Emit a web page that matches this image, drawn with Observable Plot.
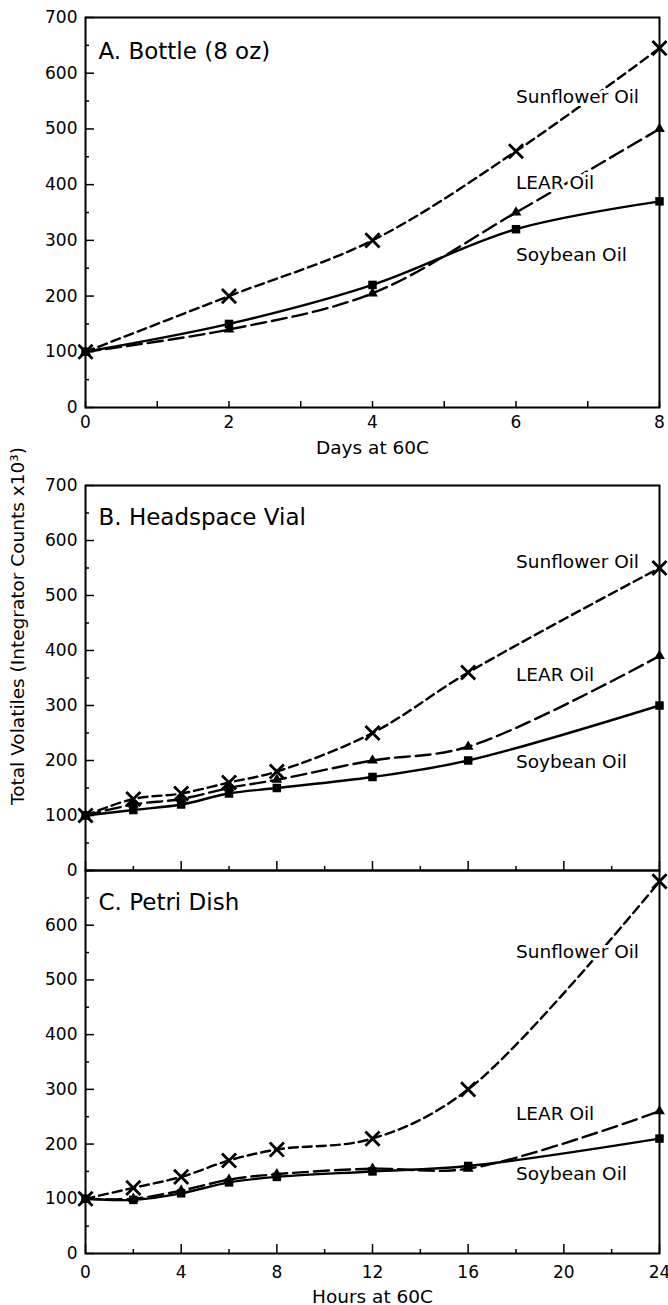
<!DOCTYPE html>
<html><head><meta charset="utf-8">
<script src="https://cdn.jsdelivr.net/npm/d3@7"></script>
<script src="https://cdn.jsdelivr.net/npm/@observablehq/plot@0.6"></script>
<style>
body{margin:0;background:#fff;}
#chart{position:relative;width:668px;height:1305px;font-family:"DejaVu Sans",sans-serif;}
#chart svg{position:absolute;left:0;overflow:visible;background:transparent;}
</style></head><body><div id="chart"></div>
<script>
// ---- data ----
const days = [0, 2, 4, 6, 8];
const hours = [0, 2, 4, 6, 8, 12, 16, 24];
const oils = ["Sunflower Oil", "LEAR Oil", "Soybean Oil"];

const bottleSunflower = [100, 200, 300, 460, 645];
const bottleLear      = [100, 140, 205, 350, 500];
const bottleSoybean   = [100, 150, 220, 320, 370];

const vialSunflower = [100, 130, 140, 160, 180, 250, 360, 550];
const vialLear      = [100, 120, 130, 150, 165, 200, 225, 390];
const vialSoybean   = [100, 110, 120, 140, 150, 170, 200, 300];

const petriSunflower = [100, 120, 140, 170, 190, 210, 300, 680];
const petriLear      = [100, 100, 115, 135, 145, 155, 155, 260];
const petriSoybean   = [100,  98, 110, 130, 140, 150, 160, 210];

const yMajorTicks = [0, 100, 200, 300, 400, 500, 600, 700];
const yMinorTicks = [50, 150, 250, 350, 450, 550, 650];
const yLabelsC = [0, 100, 200, 300, 400, 500, 600];
const dayTicks = [0, 1, 2, 3, 4, 5, 6, 7, 8];
const dayLabels = [0, 2, 4, 6, 8];
const hourMajorTicks = [0, 4, 8, 12, 16, 20, 24];
const hourMinorTicks = [2, 6, 10, 14, 18, 22];
const hourLabels = [0, 4, 8, 12, 16, 20, 24];

const titleA = "A. Bottle (8 oz)";
const titleB = "B. Headspace Vial";
const titleC = "C. Petri Dish";
const xTitleA = "Days at 60C";
const xTitleC = "Hours at 60C";
const yTitle = "Total Volatiles (Integrator Counts x10³)";

// label anchors in data units (x, y)
const labelPosA = [[6, 557], [6, 403], [6, 273]];
const labelPosB = [[18, 560], [18, 355], [18, 198]];
const labelPosC = [[18, 551], [18, 255], [18, 145]];

// ---- helpers ----
const rows = (xs, ys, oil) => xs.map((x, i) => ({x, y: ys[i], oil}));
const labels = (pos) => pos.map((p, i) => ({text: oils[i], x: p[0], y: p[1]}));

function seriesMarks(xs, sun, lear, soy) {
  const S = rows(xs, sun, oils[0]), L = rows(xs, lear, oils[1]), Y = rows(xs, soy, oils[2]);
  return [
    Plot.line(S, {x: "x", y: "y", curve: "catmull-rom", strokeWidth: 2.4, strokeDasharray: "9,5"}),
    Plot.line(L, {x: "x", y: "y", curve: "catmull-rom", strokeWidth: 2.4, strokeDasharray: "15,6"}),
    Plot.line(Y, {x: "x", y: "y", curve: "catmull-rom", strokeWidth: 2.4}),
    Plot.dot(S, {x: "x", y: "y", symbol: "times", r: 6.5, stroke: "black", strokeWidth: 2.8}),
    Plot.dot(L, {x: "x", y: "y", symbol: "triangle", r: 4, fill: "black"}),
    Plot.dot(Y, {x: "x", y: "y", symbol: "square", r: 4.8, fill: "black"})
  ];
}

function seriesLabels(pos) {
  return Plot.text(labels(pos), {x: "x", y: "y", text: "text", textAnchor: "start", fontSize: 18.5, fill: "black", stroke: "white", strokeWidth: 6});
}

function yAxisMarks(labelTicks) {
  return [
    Plot.axisY(yMajorTicks, {tickSize: -9, strokeWidth: 1.5, fill: "none", label: null}),
    Plot.axisY(yMinorTicks, {tickSize: -4, strokeWidth: 1.5, fill: "none", label: null}),
    Plot.axisY(labelTicks, {tickSize: 0, tickPadding: 8, fontSize: 17, label: null})
  ];
}

const baseStyle = {fontFamily: "DejaVu Sans, sans-serif", fontSize: "17px", color: "black", background: "transparent", overflow: "visible"};
const chart = document.getElementById("chart");
function place(svg, top) { svg.style.top = top + "px"; chart.appendChild(svg); }

// ---- Panel A ----
const plotA = Plot.plot({
  width: 668, height: 462, marginLeft: 85, marginRight: 9, marginTop: 17, marginBottom: 55,
  x: {domain: [0, 8], axis: null}, y: {domain: [0, 700], axis: null},
  style: baseStyle,
  marks: [
    ...yAxisMarks(yMajorTicks),
    Plot.axisX(dayTicks, {anchor: "bottom", tickSize: -6, strokeWidth: 1.5, fill: "none", label: null}),
    Plot.axisX(dayLabels, {anchor: "bottom", tickSize: 0, tickPadding: 8, fontSize: 17, label: null}),
    ...seriesMarks(days, bottleSunflower, bottleLear, bottleSoybean),
    seriesLabels(labelPosA),
    Plot.text([titleA], {frameAnchor: "top-left", dx: 13, dy: 34, textAnchor: "start", lineAnchor: "middle", fontSize: 23}),
    Plot.text([xTitleA], {frameAnchor: "bottom", dy: 41, lineAnchor: "middle", fontSize: 18.5}),
    Plot.frame({strokeWidth: 2})
  ]
});
place(plotA, 0);

// ---- Panel B ----
const plotB = Plot.plot({
  width: 668, height: 405, marginLeft: 85, marginRight: 9, marginTop: 20, marginBottom: 0,
  x: {domain: [0, 24], axis: null}, y: {domain: [0, 700], axis: null},
  style: baseStyle,
  marks: [
    ...yAxisMarks(yMajorTicks),
    Plot.axisX(hourMajorTicks, {anchor: "bottom", tickSize: -9, strokeWidth: 1.5, fill: "none", label: null}),
    Plot.axisX(hourMinorTicks, {anchor: "bottom", tickSize: -4, strokeWidth: 1.5, fill: "none", label: null}),
    ...seriesMarks(hours, vialSunflower, vialLear, vialSoybean),
    seriesLabels(labelPosB),
    Plot.text([titleB], {frameAnchor: "top-left", dx: 13, dy: 32, textAnchor: "start", lineAnchor: "middle", fontSize: 23}),
    Plot.text([yTitle], {frameAnchor: "left", rotate: -90, dx: -67, dy: -52, textAnchor: "middle", lineAnchor: "middle", fontSize: 18.5}),
    Plot.frame({strokeWidth: 2})
  ]
});
place(plotB, 465);

// ---- Panel C ----
const plotC = Plot.plot({
  width: 668, height: 435, marginLeft: 85, marginRight: 9, marginTop: 0, marginBottom: 52,
  x: {domain: [0, 24], axis: null}, y: {domain: [0, 700], axis: null},
  style: baseStyle,
  marks: [
    ...yAxisMarks(yLabelsC),
    Plot.axisX(hourMajorTicks, {anchor: "bottom", tickSize: -9, strokeWidth: 1.5, fill: "none", label: null}),
    Plot.axisX(hourMinorTicks, {anchor: "bottom", tickSize: -4, strokeWidth: 1.5, fill: "none", label: null}),
    Plot.axisX(hourLabels, {anchor: "bottom", tickSize: 0, tickPadding: 12, fontSize: 17, label: null}),
    ...seriesMarks(hours, petriSunflower, petriLear, petriSoybean),
    seriesLabels(labelPosC),
    Plot.text([titleC], {frameAnchor: "top-left", dx: 13, dy: 32, textAnchor: "start", lineAnchor: "middle", fontSize: 23}),
    Plot.text([xTitleC], {frameAnchor: "bottom", dy: 44, lineAnchor: "middle", fontSize: 18.5}),
    Plot.frame({strokeWidth: 2})
  ]
});
place(plotC, 870);
</script></body></html>
